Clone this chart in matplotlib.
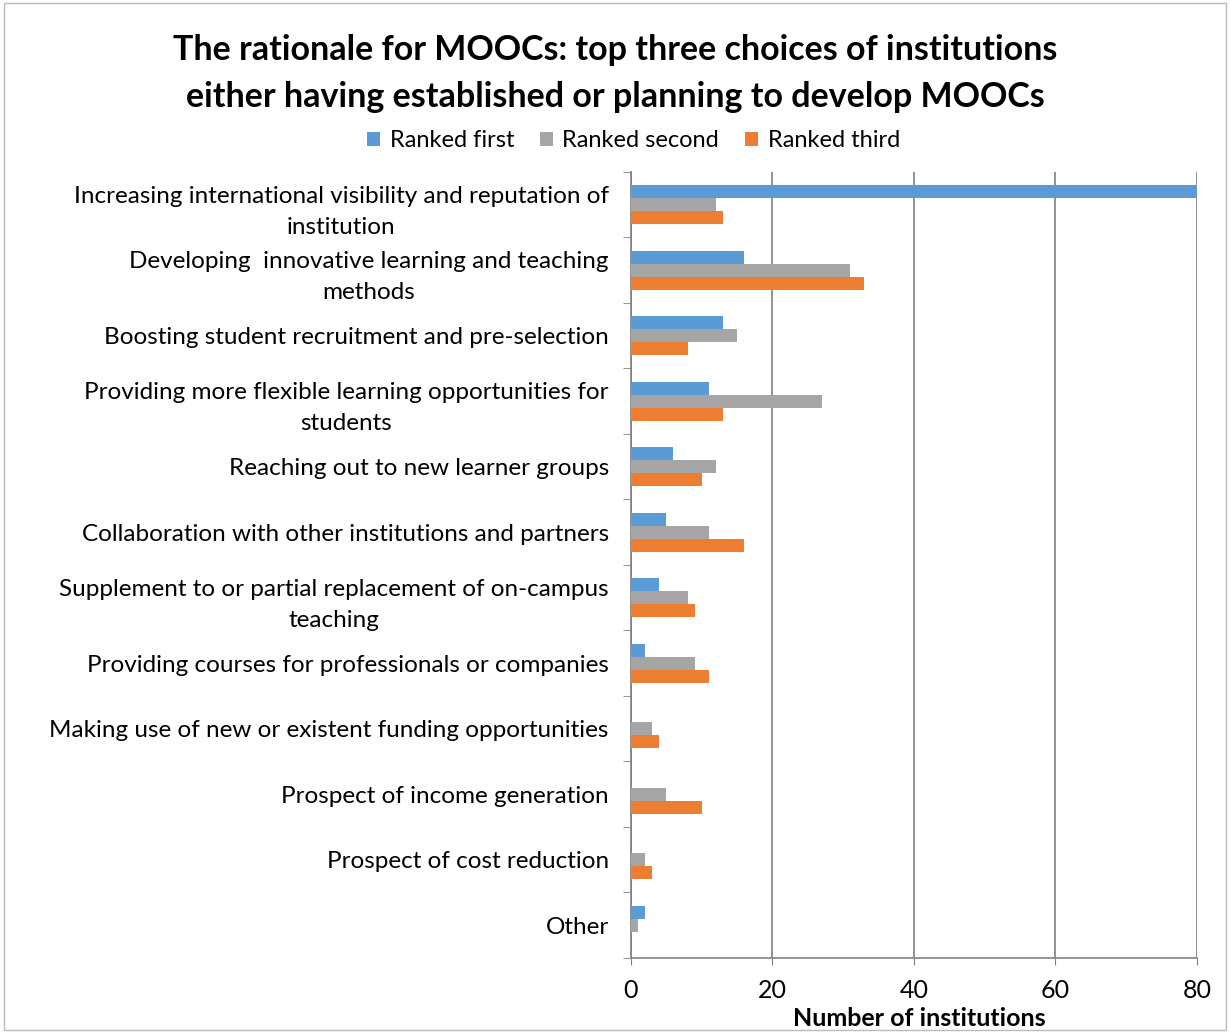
import numpy as np
import matplotlib.pyplot as plt
from matplotlib.patches import Rectangle

categories = [
    'Increasing international visibility and reputation of\ninstitution',
    'Developing  innovative learning and teaching\nmethods',
    'Boosting student recruitment and pre-selection',
    'Providing more flexible learning opportunities for\nstudents',
    'Reaching out to new learner groups',
    'Collaboration with other institutions and partners',
    'Supplement to or partial replacement of on-campus\nteaching',
    'Providing courses for professionals or companies',
    'Making use of new or existent funding opportunities',
    'Prospect of income generation',
    'Prospect of cost reduction',
    'Other',
]
ranked_first = [82, 16, 13, 11, 6, 5, 4, 2, 0, 0, 0, 2]
ranked_second = [12, 31, 15, 27, 12, 11, 8, 9, 3, 5, 2, 1]
ranked_third = [13, 33, 8, 13, 10, 16, 9, 11, 4, 10, 3, 0]
series_names = ['Ranked first', 'Ranked second', 'Ranked third']
colors = ['#5B9BD5', '#A5A5A5', '#ED7D31']

plt.rcParams['font.family'] = ['Lato', 'DejaVu Sans']

fig = plt.figure(figsize=(12.3, 10.33), dpi=100)
ax = fig.add_axes([0.513, 0.0726, 0.460, 0.761])

y = np.arange(len(categories))
h = 0.2
for i, (vals, name, c) in enumerate(zip([ranked_first, ranked_second, ranked_third], series_names, colors)):
    ax.barh(y + (i - 1) * h, vals, height=h, color=c, label=name, zorder=3)

ax.set_xlim(0, 80)
ax.set_ylim(len(categories) - 0.5, -0.5)
ax.set_xticks([0, 20, 40, 60, 80])
ax.tick_params(axis='x', labelsize=18, length=5, color='#808080', pad=10)
ax.set_yticks(y)
ax.set_yticklabels(categories, fontsize=17.5, multialignment='center', linespacing=1.6)
ax.tick_params(axis='y', which='major', length=0, pad=16)
ax.set_yticks(np.arange(-0.5, len(categories), 1), minor=True)
ax.tick_params(axis='y', which='minor', length=6, color='#808080', direction='out')
ax.grid(axis='x', color='#808080', linewidth=1.2, zorder=0)
for s in ['top', 'right']:
    ax.spines[s].set_visible(False)
for s in ['left', 'bottom']:
    ax.spines[s].set_color('#808080')
    ax.spines[s].set_linewidth(1.2)

ax.set_xlabel('Number of institutions', fontsize=18, fontweight='bold', labelpad=0)
ax.xaxis.set_label_coords(0.51, -0.062)

fig.text(0.5, 0.952, 'The rationale for MOOCs: top three choices of institutions',
         ha='center', va='center', fontsize=24.5, fontweight='bold')
fig.text(0.5, 0.906, 'either having established or planning to develop MOOCs',
         ha='center', va='center', fontsize=24.5, fontweight='bold')

fig.legend(loc='center', bbox_to_anchor=(0.515, 0.864), ncol=3, frameon=False,
           fontsize=17, handlelength=0.55, handleheight=0.55, handletextpad=0.4,
           columnspacing=1.1)

fig.patches.append(Rectangle((0.003, 0.003), 0.994, 0.994, transform=fig.transFigure,
                             fill=False, edgecolor='#BBBBBB', linewidth=1))

fig.savefig('out.png', dpi=100)
